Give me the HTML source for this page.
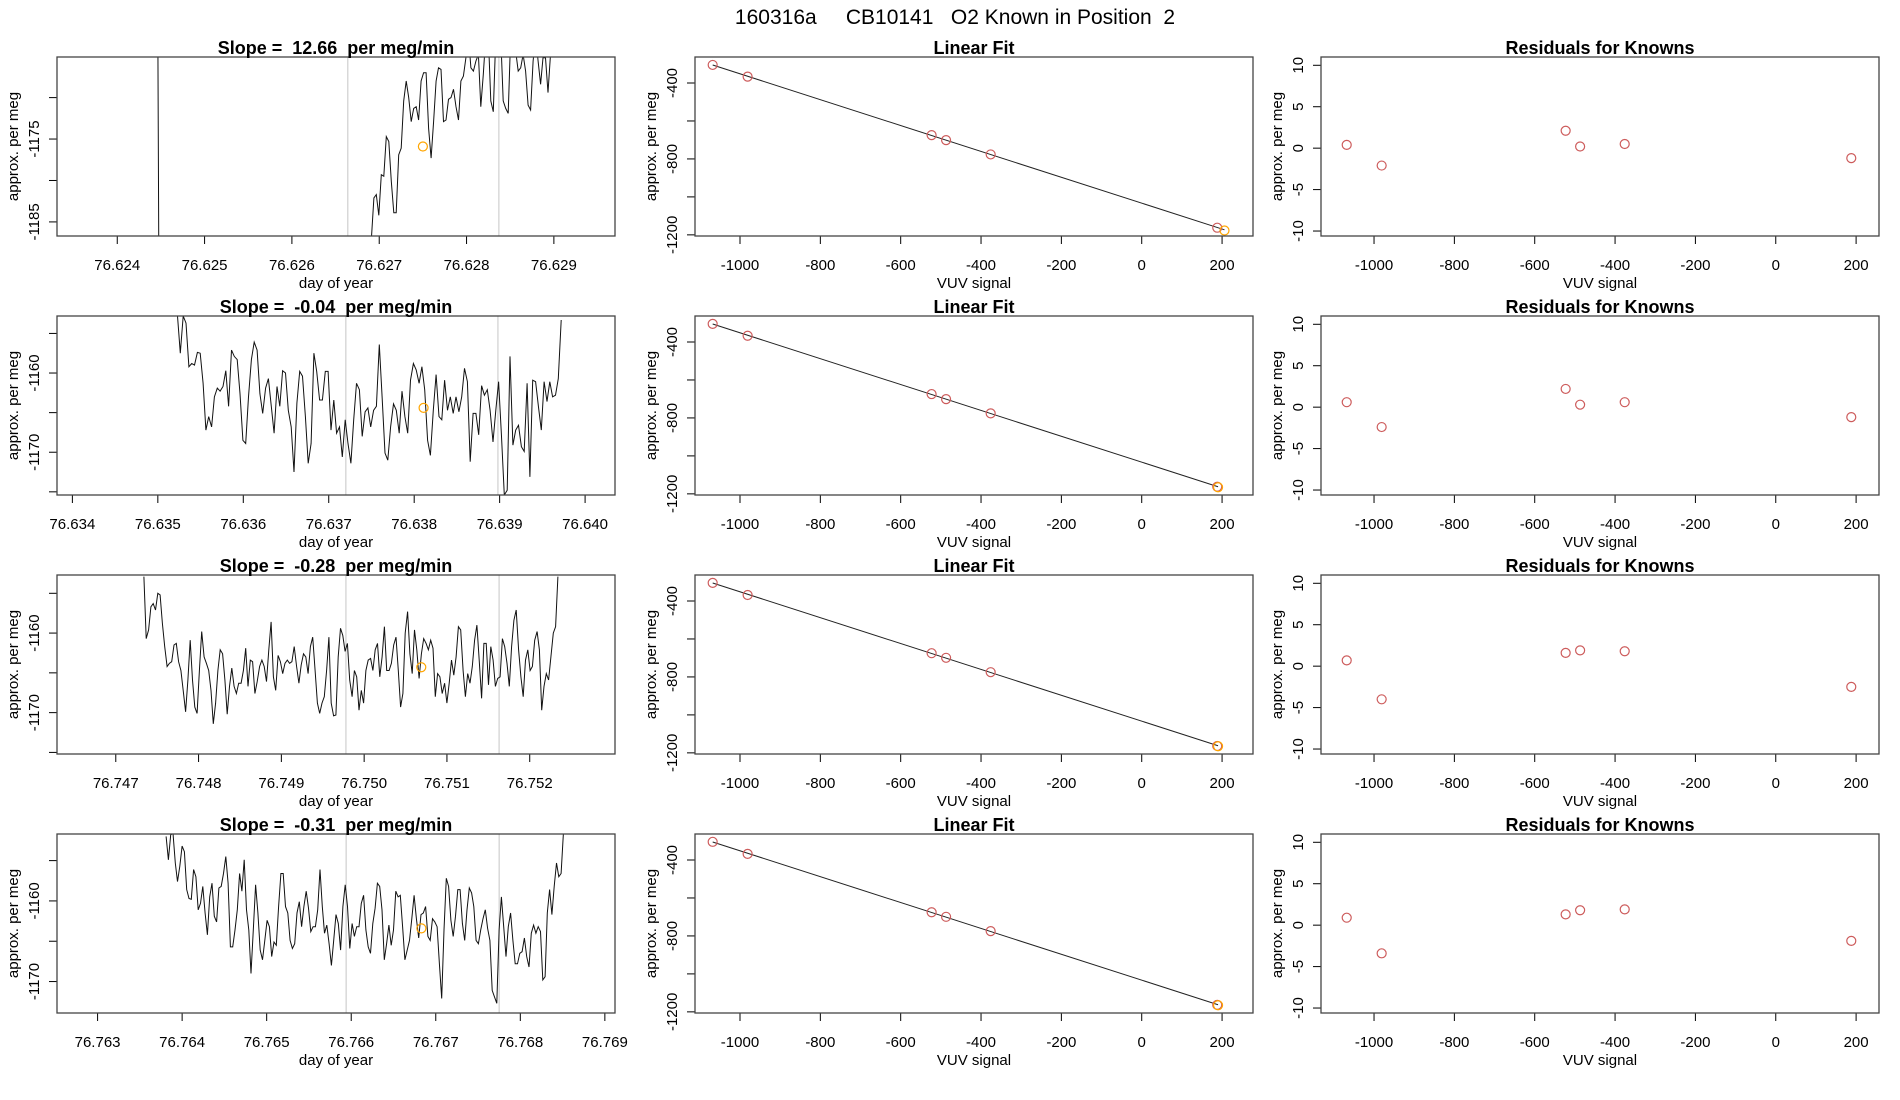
<!DOCTYPE html>
<html><head><meta charset="utf-8"><style>
html,body{margin:0;padding:0;background:#fff;}
svg{display:block;font-family:"Liberation Sans",Arial,sans-serif;}
text{white-space:pre;}
</style></head><body>
<svg id="fig" width="1900" height="1100" viewBox="0 0 1900 1100" xmlns="http://www.w3.org/2000/svg">
<text x="955" y="24" font-size="21" text-anchor="middle">160316a     CB10141   O2 Known in Position  2</text>
</svg>
<script>
// ---------- data ----------
const rowTops = [57, 316, 575, 834];
const slopeLabels = ["12.66", "-0.04", "-0.28", "-0.31"];
const tsXlim = [[76.62331, 76.62970],[76.63382, 76.64035],[76.74629, 76.75303],[76.76252, 76.76912]];
const tsYlim = [[-1186.7, -1165.1],[-1175.4, -1152.8],[-1175.2, -1152.7],[-1173.9, -1151.7]];
const tsXticks = [
 ["76.624","76.625","76.626","76.627","76.628","76.629"],
 ["76.634","76.635","76.636","76.637","76.638","76.639","76.640"],
 ["76.747","76.748","76.749","76.750","76.751","76.752"],
 ["76.763","76.764","76.765","76.766","76.767","76.768","76.769"]];
const tsYticks = [[-1185,-1180,-1175,-1170],[-1175,-1170,-1165,-1160,-1155],[-1175,-1170,-1165,-1160,-1155],[-1170,-1165,-1160,-1155]];
const tsYlabels = [[-1185,-1175],[-1170,-1160],[-1170,-1160],[-1170,-1160]];
const grayLines = [[76.62664,76.62837],[76.63720,76.63898],[76.74978,76.75163],[76.76594,76.76775]];
const sampleT = [76.62750, 76.63811, 76.75069, 76.76683];
const sampleV = [-1175.9, -1164.4, -1164.3, -1163.4];
const seriesStart = [76.62691, 76.63523, 76.74734, 76.76381];
const seriesEnd = [76.62899, 76.63972, 76.75234, 76.76851];
const row1PreT = [76.62446, 76.62448, 76.62689];
const row1PreV = [-1150, -1200, -1200];
const series1 = [-1187.0,-1182.1,-1181.7,-1184.2,-1179.3,-1179.5,-1174.7,-1175.3,-1180.1,-1183.9,-1183.9,-1176.9,-1176.1,-1170.4,-1168.0,-1170.0,-1172.9,-1171.3,-1171.1,-1172.7,-1168.0,-1167.0,-1167.0,-1173.7,-1177.3,-1172.9,-1168.0,-1166.4,-1166.6,-1172.9,-1172.7,-1170.2,-1170.0,-1169.0,-1171.1,-1172.7,-1168.0,-1167.4,-1165.2,-1162.5,-1166.4,-1166.8,-1165.6,-1164.8,-1171.1,-1167.2,-1162.5,-1162.5,-1170.4,-1171.7,-1162.5,-1162.5,-1162.5,-1170.4,-1171.3,-1171.9,-1162.5,-1162.5,-1164.4,-1166.8,-1166.4,-1164.8,-1166.8,-1170.9,-1171.5,-1165.6,-1162.5,-1165.6,-1168.4,-1165.2,-1165.2,-1169.4,-1164.8,-1160];
const series2 = [-1152.8,-1157.5,-1152.8,-1153.7,-1159.2,-1158.8,-1159.0,-1157.4,-1157.5,-1161.3,-1167.2,-1165.5,-1166.8,-1163.0,-1161.9,-1162.3,-1161.7,-1159.7,-1164.2,-1157.1,-1157.9,-1158.3,-1162.6,-1168.5,-1168.9,-1163.0,-1158.3,-1156.1,-1157.1,-1162.6,-1165.1,-1161.9,-1160.7,-1164.2,-1167.6,-1161.7,-1164.2,-1159.7,-1160.0,-1164.7,-1166.8,-1172.5,-1163.8,-1159.8,-1160.4,-1165.5,-1171.4,-1168.9,-1157.5,-1159.8,-1163.4,-1163.4,-1159.8,-1159.8,-1167.2,-1163.4,-1167.6,-1166.8,-1170.6,-1165.9,-1168.9,-1171.4,-1165.9,-1161.3,-1162.1,-1168.0,-1164.9,-1164.4,-1166.8,-1164.7,-1164.2,-1156.4,-1163.0,-1170.1,-1171.0,-1166.8,-1163.9,-1164.7,-1167.6,-1162.3,-1165.5,-1167.6,-1160.9,-1158.8,-1159.6,-1161.3,-1159.2,-1162.1,-1168.5,-1170.4,-1164.7,-1160.2,-1165.5,-1165.9,-1160.9,-1164.7,-1163.0,-1165.1,-1163.0,-1164.9,-1163.0,-1159.4,-1161.1,-1171.2,-1165.1,-1165.1,-1167.8,-1161.6,-1162.8,-1162.1,-1164.7,-1168.7,-1164.7,-1161.1,-1168.0,-1175.4,-1174.8,-1157.9,-1169.1,-1167.2,-1166.6,-1169.3,-1169.9,-1161.3,-1173.1,-1160.9,-1161.1,-1164.2,-1167.2,-1161.1,-1163.6,-1161.1,-1163.0,-1162.8,-1160.7,-1153.3];
const series3 = [-1152.9,-1160.7,-1159.6,-1156.7,-1156.3,-1157.1,-1155.0,-1155.2,-1158.8,-1161.7,-1164.2,-1163.8,-1163.6,-1161.5,-1161.3,-1163.6,-1164.7,-1167.2,-1169.9,-1165.9,-1160.9,-1165.9,-1169.3,-1170.1,-1164.7,-1159.8,-1163.0,-1163.8,-1164.7,-1167.2,-1171.4,-1168.8,-1164.7,-1162.1,-1162.6,-1165.9,-1170.2,-1166.7,-1164.4,-1166.7,-1167.6,-1166.3,-1166.3,-1164.7,-1161.9,-1166.7,-1163.4,-1163.6,-1167.6,-1166.1,-1164.2,-1163.4,-1164.2,-1166.1,-1162.1,-1158.6,-1165.5,-1167.2,-1162.8,-1163.6,-1165.1,-1163.8,-1163.4,-1163.8,-1163.6,-1161.7,-1164.2,-1166.3,-1164.0,-1162.6,-1163.0,-1165.1,-1161.7,-1160.5,-1164.7,-1168.8,-1170.1,-1168.8,-1168.0,-1164.7,-1160.5,-1168.8,-1170.4,-1170.3,-1163.0,-1159.4,-1160.3,-1162.3,-1161.3,-1165.9,-1168.0,-1164.7,-1165.5,-1169.7,-1167.2,-1168.8,-1164.7,-1163.4,-1163.2,-1164.7,-1162.1,-1161.3,-1165.5,-1163.0,-1159.2,-1164.7,-1164.7,-1163.8,-1161.5,-1160.5,-1164.7,-1169.3,-1167.6,-1160.0,-1157.3,-1162.6,-1165.1,-1159.6,-1162.1,-1165.7,-1162.6,-1160.7,-1161.3,-1162.1,-1160.9,-1161.9,-1168.0,-1165.1,-1165.5,-1167.6,-1166.3,-1168.8,-1166.3,-1163.4,-1165.3,-1163.0,-1159.2,-1159.6,-1164.7,-1168.0,-1165.1,-1166.3,-1164.2,-1160.9,-1159.0,-1163.4,-1168.2,-1161.3,-1161.3,-1166.5,-1161.7,-1163.4,-1166.7,-1165.7,-1165.5,-1160.7,-1161.7,-1163.8,-1166.7,-1161.7,-1158.4,-1157.1,-1162.1,-1165.5,-1168.0,-1163.4,-1162.1,-1164.7,-1164.2,-1160.9,-1159.8,-1162.1,-1169.7,-1166.7,-1165.1,-1165.9,-1163.0,-1160.0,-1159.2,-1152.9];
const series4 = [-1152.0,-1154.9,-1151.8,-1151.6,-1155.3,-1157.6,-1155.7,-1153.2,-1153.9,-1158.6,-1159.7,-1159.8,-1156.1,-1157.0,-1161.1,-1160.3,-1158.2,-1161.5,-1164.2,-1159.5,-1157.8,-1161.9,-1162.6,-1158.4,-1158.2,-1156.6,-1154.5,-1157.8,-1165.7,-1165.7,-1163.6,-1161.1,-1156.6,-1158.8,-1154.9,-1161.1,-1163.6,-1169.0,-1163.6,-1158.0,-1161.5,-1166.1,-1167.3,-1164.9,-1162.4,-1163.2,-1166.9,-1165.1,-1165.5,-1160.7,-1156.6,-1156.6,-1160.7,-1161.5,-1164.9,-1165.9,-1165.3,-1161.5,-1160.1,-1163.2,-1160.7,-1158.8,-1160.9,-1163.8,-1163.2,-1163.2,-1161.1,-1156.1,-1160.7,-1164.0,-1163.0,-1165.3,-1168.0,-1164.9,-1161.7,-1162.8,-1166.1,-1160.7,-1158.0,-1160.7,-1165.9,-1162.8,-1164.4,-1163.2,-1163.2,-1160.3,-1159.3,-1163.6,-1165.7,-1166.5,-1162.8,-1160.9,-1157.8,-1158.2,-1161.1,-1167.3,-1165.3,-1163.0,-1165.5,-1163.6,-1158.8,-1159.5,-1159.3,-1163.2,-1167.3,-1166.1,-1164.9,-1162.2,-1159.3,-1162.2,-1164.6,-1161.7,-1161.5,-1160.7,-1164.4,-1164.9,-1162.2,-1162.6,-1163.2,-1167.8,-1172.1,-1163.6,-1157.2,-1158.2,-1162.4,-1164.4,-1161.9,-1158.6,-1158.6,-1162.8,-1164.9,-1161.1,-1158.4,-1159.0,-1160.7,-1164.9,-1165.3,-1163.6,-1162.2,-1161.1,-1163.4,-1164.9,-1171.1,-1171.9,-1172.7,-1163.6,-1159.5,-1163.2,-1166.9,-1163.2,-1161.5,-1164.9,-1167.8,-1167.8,-1166.5,-1166.3,-1164.6,-1166.9,-1168.2,-1164.0,-1163.0,-1164.0,-1163.2,-1163.8,-1169.8,-1169.4,-1161.5,-1158.6,-1161.7,-1158.2,-1155.3,-1157.0,-1156.6,-1151.6];
const allSeries = [series1, series2, series3, series4];
const knownX = [-1068, -981, -523, -487, -376, 188];
const fitSlope = [-0.6815, -0.6815, -0.6815, -0.6815];
const fitIntercept = [-1033, -1033, -1033, -1033];
const residuals = [
 [0.4, -2.1, 2.1, 0.2, 0.5, -1.2],
 [0.6, -2.4, 2.2, 0.3, 0.6, -1.2],
 [0.7, -4.0, 1.6, 1.9, 1.8, -2.5],
 [0.9, -3.4, 1.3, 1.8, 1.9, -1.9]];
const unknownX = [206, 190, 190, 190];
const unknownY = [-1177, -1165, -1165, -1165];
const fitXlim = [-1112, 277];
const resXlim = [-1132, 257];
const fitYlim = [-1206, -263];
const fitXticks = [-1000, -800, -600, -400, -200, 0, 200];
const fitYticks = [-1200, -1000, -800, -600, -400];
const fitYlabels = [-1200, -800, -400];
const resYlim = [-10.6, 11];
const resYticks = [-10, -5, 0, 5, 10];

// ---------- drawing ----------
const NS = "http://www.w3.org/2000/svg";
const svg = document.getElementById("fig");
const colL = [57, 695, 1321], colW = 558, rowH = 179;
function mk(tag, attrs, parent) {
  const e = document.createElementNS(NS, tag);
  for (const k in attrs) e.setAttribute(k, attrs[k]);
  (parent || svg).appendChild(e);
  return e;
}
function scale(d0, d1, r0, r1) { return v => r0 + (v - d0) / (d1 - d0) * (r1 - r0); }

function frame(g, L, T, xs, ys, xticks, xlabels, yticks, ylabels, title, xtitle, pname) {
  const B = T + rowH;
  xticks.forEach((v, i) => {
    const x = xs(v);
    const t = mk("line", {x1: x, x2: x, y1: B, y2: B + 8, stroke: "#000", "stroke-width": 1}, g);
    
    
    const lb = mk("text", {x: x, y: B + 34, "font-size": 15, "text-anchor": "middle"}, g);
    
    
    lb.textContent = xlabels[i];
  });
  yticks.forEach(v => {
    const y = ys(v);
    const t = mk("line", {x1: L - 8, x2: L, y1: y, y2: y, stroke: "#000", "stroke-width": 1}, g);
    
    
    if (ylabels.indexOf(v) >= 0) {
      const lb = mk("text", {x: 0, y: 0, "font-size": 15, "text-anchor": "middle", transform: `translate(${L - 18},${y}) rotate(-90)`}, g);
      
      
      lb.textContent = String(v);
    }
  });
  const bx = mk("rect", {x: L, y: T, width: colW, height: rowH, fill: "none", stroke: "#444", "stroke-width": 1.3}, g);
  
  
  const tt = mk("text", {x: L + colW / 2, y: T - 3, "font-size": 18, "font-weight": "bold", "text-anchor": "middle"}, g);
  
  
  tt.textContent = title;
  const xt = mk("text", {x: L + colW / 2, y: B + 52, "font-size": 15, "text-anchor": "middle"}, g);
  
  
  xt.textContent = xtitle;
  const yt = mk("text", {x: 0, y: 0, "font-size": 15, "text-anchor": "middle", transform: `translate(${L - 39},${T + rowH / 2}) rotate(-90)`}, g);
  
  
  yt.textContent = "approx. per meg";
}

function circle(g, x, y, col, name) {
  const c = mk("circle", {cx: x, cy: y, r: 4.5, fill: "none", stroke: col, "stroke-width": 1.2}, g);
  
  
}

for (let r = 0; r < 4; r++) {
  const T = rowTops[r], B = T + rowH;
  {
    const L = colL[0];
    const g = mk("g", {});
    
    
    const xs = scale(tsXlim[r][0], tsXlim[r][1], L, L + colW);
    const ys = scale(tsYlim[r][0], tsYlim[r][1], B, T);
    const clipId = "clip" + r;
    const cp = mk("clipPath", {id: clipId}, g);
    mk("rect", {x: L, y: T, width: colW, height: rowH}, cp);
    grayLines[r].forEach(v => {
      const gl = mk("line", {x1: xs(v), x2: xs(v), y1: T, y2: B, stroke: "#cfcfcf", "stroke-width": 1.2}, g);
      
      
    });
    const vals = allSeries[r];
    const n = vals.length;
    const pts = [];
    if (r === 0) row1PreT.forEach((t, i) => pts.push(xs(t).toFixed(1) + "," + ys(row1PreV[i]).toFixed(1)));
    vals.forEach((v, i) => {
      const t = seriesStart[r] + (seriesEnd[r] - seriesStart[r]) * i / (n - 1);
      pts.push(xs(t).toFixed(1) + "," + ys(v).toFixed(1));
    });
    const pl = mk("polyline", {points: pts.join(" "), fill: "none", stroke: "#111", "stroke-width": 1, "clip-path": `url(#${clipId})`}, g);
    
    
    circle(g, xs(sampleT[r]), ys(sampleV[r]), "#ffa500", 'sample-point');
    const xt = tsXticks[r].map(s => parseFloat(s));
    frame(g, L, T, xs, ys, xt, tsXticks[r], tsYticks[r], tsYlabels[r],
      "Slope =  " + slopeLabels[r] + "  per meg/min", "day of year", 'slope-panel');
  }
  {
    const L = colL[1];
    const g = mk("g", {});
    
    
    const xs = scale(fitXlim[0], fitXlim[1], L, L + colW);
    const ys = scale(fitYlim[0], fitYlim[1], B, T);
    const x0 = Math.min(...knownX), x1 = Math.max(unknownX[r], ...knownX);
    const ln = mk("line", {x1: xs(x0), y1: ys(fitIntercept[r] + fitSlope[r] * x0), x2: xs(x1), y2: ys(fitIntercept[r] + fitSlope[r] * x1), stroke: "#222", "stroke-width": 1}, g);
    
    
    knownX.forEach((x, i) => {
      const y = fitIntercept[r] + fitSlope[r] * x + residuals[r][i];
      circle(g, xs(x), ys(y), "#cd5c5c", 'known-point');
    });
    circle(g, xs(unknownX[r]), ys(unknownY[r]), "#ffa500", 'unknown-point');
    frame(g, L, T, xs, ys, fitXticks, fitXticks.map(String), fitYticks, fitYlabels, "Linear Fit", "VUV signal", 'linear-fit');
  }
  {
    const L = colL[2];
    const g = mk("g", {});
    
    
    const xs = scale(resXlim[0], resXlim[1], L, L + colW);
    const ys = scale(resYlim[0], resYlim[1], B, T);
    knownX.forEach((x, i) => circle(g, xs(x), ys(residuals[r][i]), "#cd5c5c", 'residual-point'));
    frame(g, L, T, xs, ys, fitXticks, fitXticks.map(String), resYticks, resYticks, "Residuals for Knowns", "VUV signal", 'residuals');
  }
}
</script>
</body></html>
